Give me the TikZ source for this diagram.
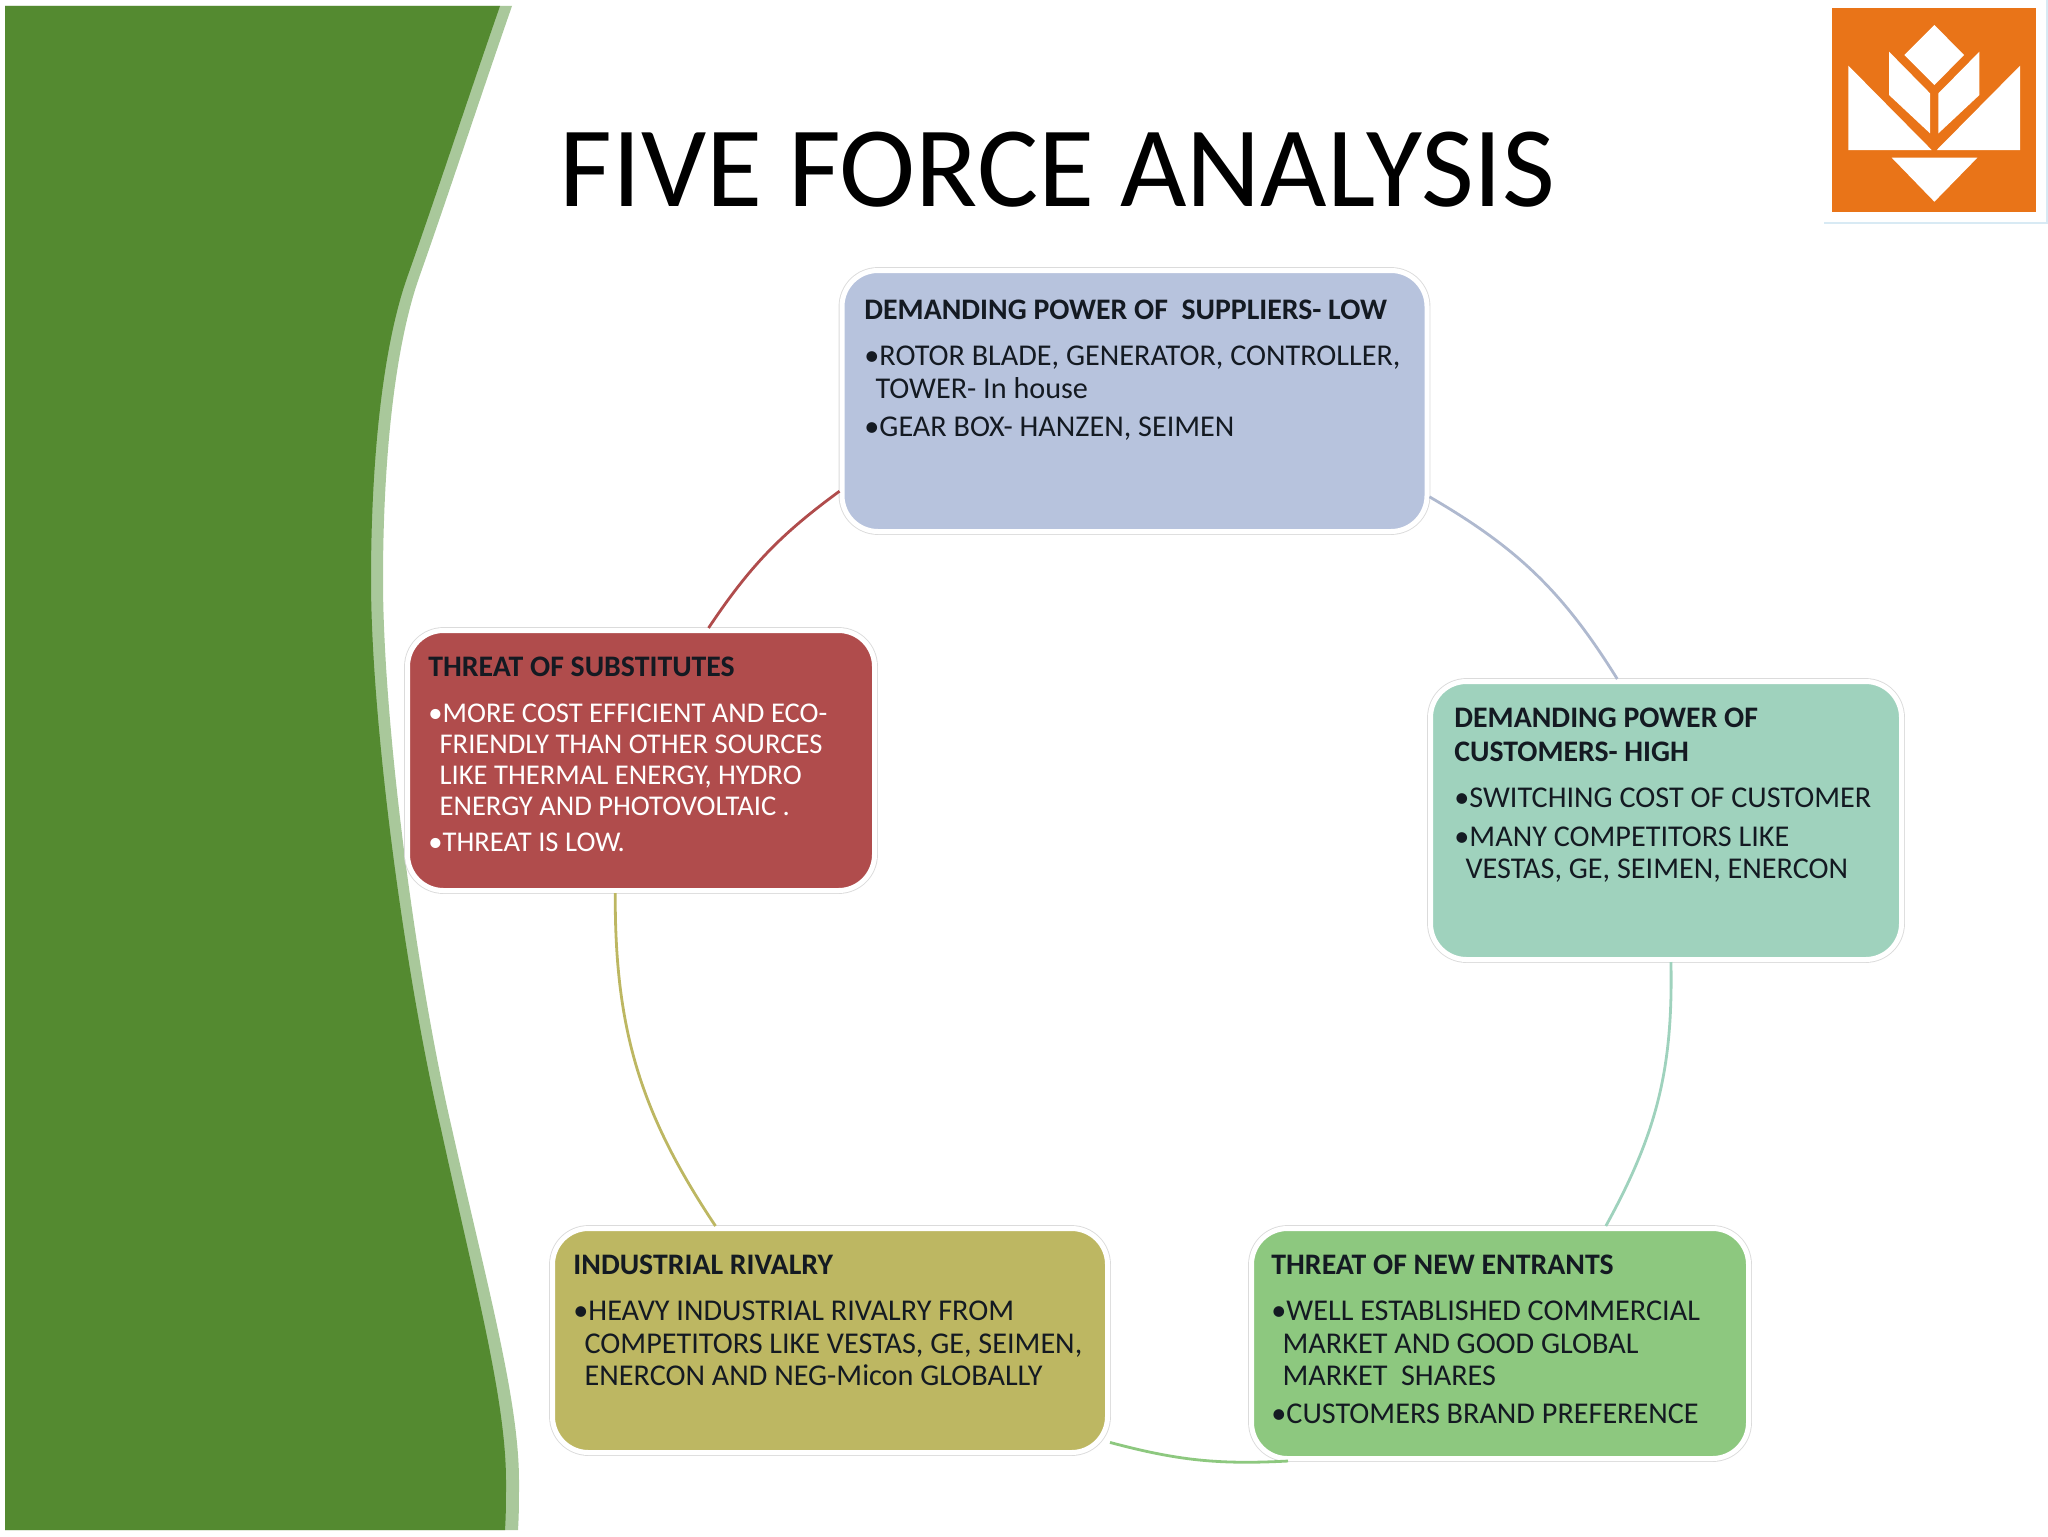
\documentclass[tikz,border=0pt]{standalone}
\usepackage{fontspec}
\setmainfont{Carlito}
\definecolor{leaf}{HTML}{548A30}
\definecolor{leafedge}{HTML}{A9C89B}
\definecolor{logoorange}{HTML}{E97418}
\definecolor{logoline}{HTML}{D8EAF4}
\definecolor{supfill}{HTML}{B7C3DD}
\definecolor{cusfill}{HTML}{9FD2BD}
\definecolor{entfill}{HTML}{8DC87F}
\definecolor{rivfill}{HTML}{BDB762}
\definecolor{subfill}{HTML}{B04C4C}
\definecolor{inkdark}{HTML}{141A22}
\tikzset{
  forcebox/.style={shape=rectangle,rounded corners=18pt,draw=white,line width=2.5pt,inner sep=0pt,
    preaction={draw=black!14,line width=3.4pt}},
  forcetext/.style={anchor=north west,inner sep=0pt,align=left,text=inkdark,font=\fontsize{15.1}{16.3}\selectfont},
  arcline/.style={line width=1.4pt,bend left=#1},
}
\newcommand{\headline}[1]{{\fontsize{14.9}{16.3}\selectfont\bfseries #1}}
\begin{document}
\begin{tikzpicture}[x=0.5pt,y=-0.5pt]
\useasboundingbox (0,0) rectangle (2048,1536);
% green side band
\fill[leafedge] (5,6) -- (512,6)
  .. controls (480,98) and (450,190) .. (420,275)
  .. controls (393,350) and (383,470) .. (383,580)
  .. controls (383,720) and (415,970) .. (452,1129)
  .. controls (487,1285) and (519,1400) .. (519,1481)
  .. controls (519,1500) and (519,1515) .. (518,1530)
  -- (5,1530) -- cycle;
\fill[leaf] (5,6) -- (500,6)
  .. controls (468,98) and (438,190) .. (408,275)
  .. controls (381,350) and (371,470) .. (371,580)
  .. controls (371,720) and (404,970) .. (441,1129)
  .. controls (475,1285) and (506,1400) .. (506,1481)
  .. controls (506,1500) and (506,1515) .. (505,1530)
  -- (5,1530) -- cycle;
% logo
\draw[logoline,line width=1pt] (1824,223) -- (2047,223) -- (2047,0);
\begin{scope}[shift={(1780,0)},x=0.1667pt,y=-0.1667pt]
\fill[logoorange] (157,25) rectangle (768,636);
\fill[white] (463,75) -- (552,165) -- (463,255) -- (373,165) -- cycle;
\fill[white] (327,155) -- (450,280) -- (450,400) -- (327,285) -- cycle;
\fill[white] (598,155) -- (475,280) -- (475,400) -- (598,285) -- cycle;
\fill[white] (205,197) -- (455,450) -- (205,450) -- cycle;
\fill[white] (720,197) -- (470,450) -- (720,450) -- cycle;
\fill[white] (335,473) -- (592,473) -- (463,605) -- cycle;
\end{scope}
% title
\node[anchor=base west,inner sep=0pt,font=\fontsize{57.4}{60}\selectfont,text=black] (title) at (559,206) {FIVE FORCE ANALYSIS};
% boxes
\node[forcebox,fill=supfill,minimum width=292.5pt,minimum height=130.5pt] (sup) at (1134.5,401) {};
\node[forcebox,fill=cusfill,minimum width=235.5pt,minimum height=139pt] (cus) at (1666,820.5) {};
\node[forcebox,fill=entfill,minimum width=248.5pt,minimum height=115pt] (ent) at (1500,1343.5) {};
\node[forcebox,fill=rivfill,minimum width=277.5pt,minimum height=112pt] (riv) at (830,1340.5) {};
\node[forcebox,fill=subfill,minimum width=233.5pt,minimum height=130pt] (sub) at (641,760.5) {};
% connectors
\draw[arcline=10,draw=subfill] (sub.63.8) to (sup.197.6);
\draw[arcline=14,draw=supfill!85!gray] (sup.342.5) to (cus.109);
\draw[arcline=15,draw=cusfill] (cus.272.8) to (ent.48.6);
\draw[arcline=9,draw=entfill] (ent.209) to (riv.340.3);
\draw[arcline=17,draw=rivfill] (riv.135.2) to (sub.259);
% texts
\node[forcetext] (suptext) at (864,300) {\headline{DEMANDING POWER OF\ \ SUPPLIERS- LOW}\\[6.5pt]
•ROTOR BLADE, GENERATOR, CONTROLLER,\\
\hspace*{5.6pt}TOWER- In house\\[3pt]
•GEAR BOX- HANZEN, SEIMEN};
\node[forcetext] (custext) at (1454,708) {\headline{DEMANDING POWER OF}\\[.7pt]
\headline{CUSTOMERS- HIGH}\\[6.5pt]
•SWITCHING COST OF CUSTOMER\\[3pt]
•MANY COMPETITORS LIKE\\
\hspace*{5.6pt}VESTAS, GE, SEIMEN, ENERCON};
\node[forcetext] (enttext) at (1271,1255) {\headline{THREAT OF NEW ENTRANTS}\\[6.5pt]
•WELL ESTABLISHED COMMERCIAL\\
\hspace*{5.6pt}MARKET AND GOOD GLOBAL\\
\hspace*{5.6pt}MARKET\ \ SHARES\\[2.5pt]
•CUSTOMERS BRAND PREFERENCE};
\node[forcetext] (rivtext) at (573,1255) {\headline{INDUSTRIAL RIVALRY}\\[6.5pt]
•HEAVY INDUSTRIAL RIVALRY FROM\\
\hspace*{5.6pt}COMPETITORS LIKE VESTAS, GE, SEIMEN,\\
\hspace*{5.6pt}ENERCON AND NEG-Micon GLOBALLY};
\node[forcetext,text=white,font=\fontsize{14.3}{15.4}\selectfont] (subtext) at (428,657) {\textcolor{inkdark}{\headline{THREAT OF SUBSTITUTES}}\\[7.5pt]
•MORE COST EFFICIENT AND ECO-\\
\hspace*{5.6pt}FRIENDLY THAN OTHER SOURCES\\
\hspace*{5.6pt}LIKE THERMAL ENERGY, HYDRO\\
\hspace*{5.6pt}ENERGY AND PHOTOVOLTAIC .\\[3pt]
•THREAT IS LOW.};
\end{tikzpicture}
\end{document}
